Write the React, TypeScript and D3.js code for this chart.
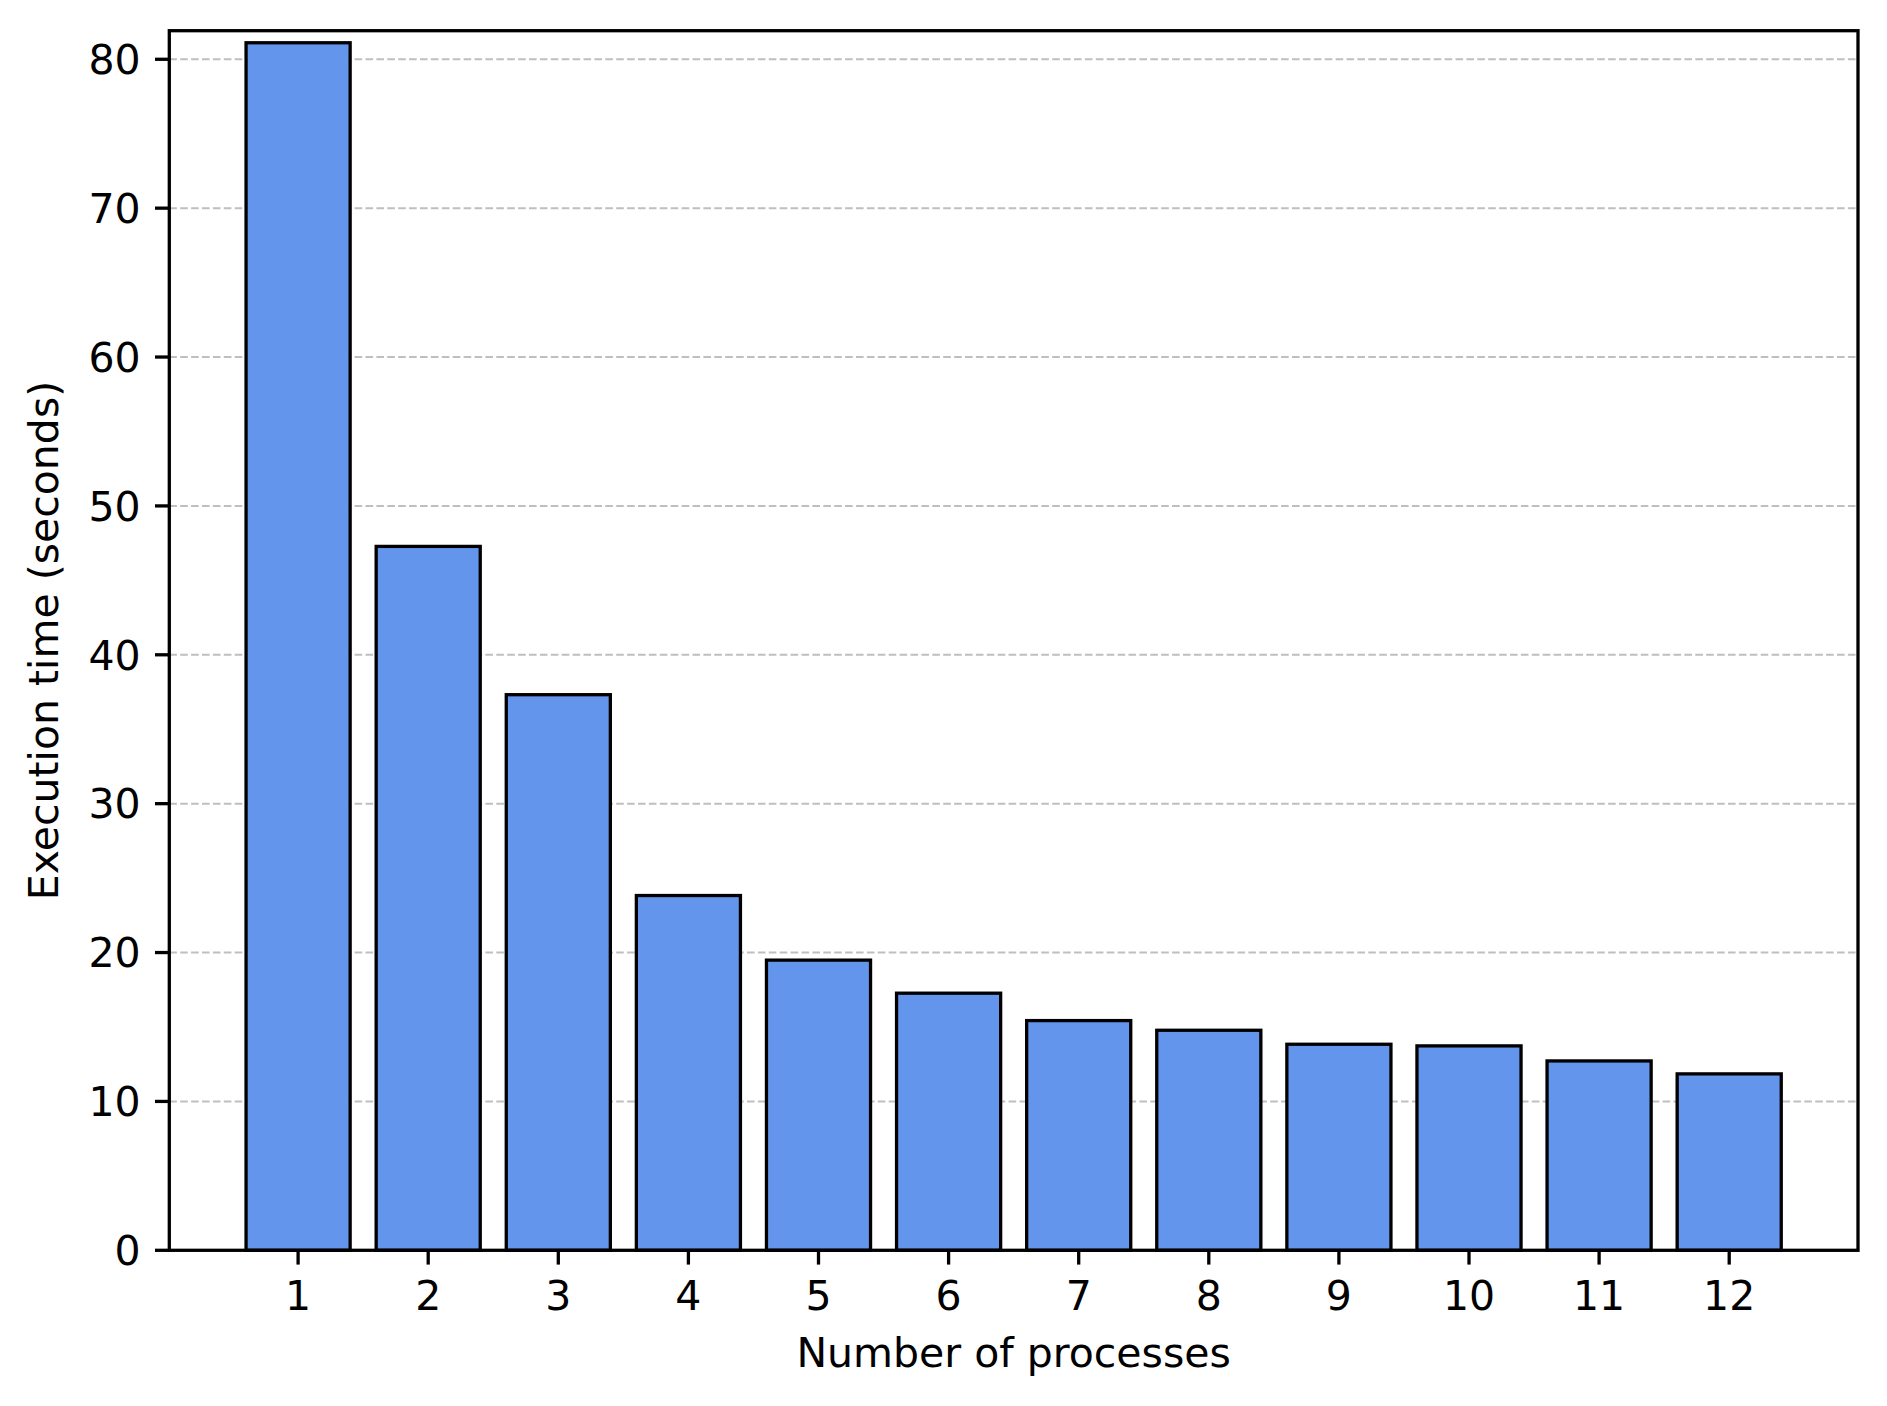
import React, { useEffect, useRef } from "react";
import * as d3 from "d3";

const processes = [1, 2, 3, 4, 5, 6, 7, 8, 9, 10, 11, 12];
const execTimes = [81.11, 47.28, 37.32, 23.83, 19.49, 17.27, 15.43, 14.78, 13.84, 13.73, 12.72, 11.85];
const yTicks = [0, 10, 20, 30, 40, 50, 60, 70, 80];
const xLabel = "Number of processes";
const yLabel = "Execution time (seconds)";

const W = 1887;
const H = 1406;
const M = { left: 169.3, right: 1858, top: 30.7, bottom: 1250.3 };
const FONT = "'DejaVu Sans', sans-serif";
const FS = 41;

export default function App() {
  const ref = useRef<SVGSVGElement>(null);

  useEffect(() => {
    document.body.style.margin = "0";
    const svg = d3.select(ref.current);
    svg.selectAll("*").remove();

    const x = d3.scaleLinear().domain([0.01, 12.99]).range([M.left, M.right]);
    const y = d3.scaleLinear().domain([0, 81.92]).range([M.bottom, M.top]);

    svg.append("rect").attr("width", W).attr("height", H).attr("fill", "#fff");

    // grid
    svg
      .append("g")
      .selectAll("line")
      .data(yTicks)
      .join("line")
      .attr("x1", M.left)
      .attr("x2", M.right)
      .attr("y1", (d) => y(d))
      .attr("y2", (d) => y(d))
      .attr("stroke", "#bfbfbf")
      .attr("stroke-width", 2.05)
      .attr("stroke-dasharray", "7.6,3.3");

    // bars
    const bw = 0.8;
    svg
      .append("g")
      .selectAll("rect")
      .data(processes)
      .join("rect")
      .attr("x", (d) => x(d - bw / 2))
      .attr("width", (d) => x(d + bw / 2) - x(d - bw / 2))
      .attr("y", (d, i) => y(execTimes[i]))
      .attr("height", (d, i) => y(0) - y(execTimes[i]))
      .attr("fill", "#6495ED")
      .attr("stroke", "#000")
      .attr("stroke-width", 3.3);

    // spines
    svg
      .append("rect")
      .attr("x", M.left)
      .attr("y", M.top)
      .attr("width", M.right - M.left)
      .attr("height", M.bottom - M.top)
      .attr("fill", "none")
      .attr("stroke", "#000")
      .attr("stroke-width", 3.3);

    const tickLen = 14.3;
    const pad = 14.3;

    // y ticks
    const gy = svg.append("g");
    gy.selectAll("line")
      .data(yTicks)
      .join("line")
      .attr("x1", M.left - tickLen)
      .attr("x2", M.left)
      .attr("y1", (d) => y(d))
      .attr("y2", (d) => y(d))
      .attr("stroke", "#000")
      .attr("stroke-width", 3.3);
    gy.selectAll("text")
      .data(yTicks)
      .join("text")
      .attr("x", M.left - tickLen - pad)
      .attr("y", (d) => y(d))
      .attr("dy", "0.36em")
      .attr("text-anchor", "end")
      .attr("font-family", FONT)
      .attr("font-size", FS)
      .attr("fill", "#000")
      .text((d) => String(d));

    // x ticks
    const gx = svg.append("g");
    gx.selectAll("line")
      .data(processes)
      .join("line")
      .attr("x1", (d) => x(d))
      .attr("x2", (d) => x(d))
      .attr("y1", M.bottom)
      .attr("y2", M.bottom + tickLen)
      .attr("stroke", "#000")
      .attr("stroke-width", 3.3);
    gx.selectAll("text")
      .data(processes)
      .join("text")
      .attr("x", (d) => x(d))
      .attr("y", 1310)
      .attr("text-anchor", "middle")
      .attr("font-family", FONT)
      .attr("font-size", FS)
      .attr("fill", "#000")
      .text((d) => String(d));

    // axis labels
    svg
      .append("text")
      .attr("x", (M.left + M.right) / 2)
      .attr("y", 1366.7)
      .attr("text-anchor", "middle")
      .attr("font-family", FONT)
      .attr("font-size", FS)
      .attr("fill", "#000")
      .text(xLabel);

    svg
      .append("text")
      .attr("transform", `translate(58,${(M.top + M.bottom) / 2}) rotate(-90)`)
      .attr("text-anchor", "middle")
      .attr("font-family", FONT)
      .attr("font-size", FS)
      .attr("fill", "#000")
      .text(yLabel);
  }, []);

  return (
    <svg
      ref={ref}
      width={W}
      height={H}
      style={{ position: "absolute", left: 0, top: 0, display: "block" }}
    />
  );
}
